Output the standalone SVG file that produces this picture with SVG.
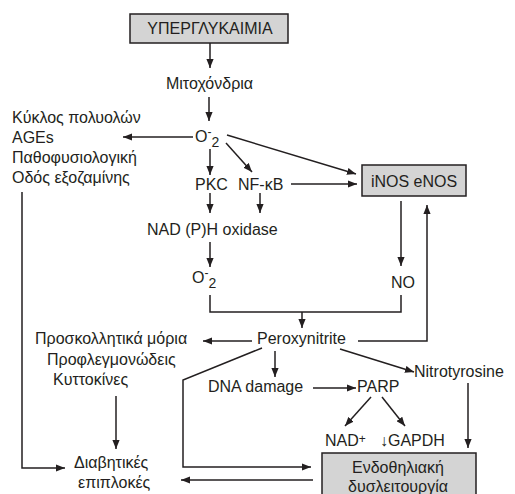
<svg xmlns="http://www.w3.org/2000/svg" width="515" height="494" viewBox="0 0 515 494">
<style>
text{font-family:"Liberation Sans",Arial,sans-serif;font-size:16px;fill:#231f20}
.box{fill:#d4d4d4;stroke:#231f20;stroke-width:1.5}
.ln{fill:none;stroke:#231f20;stroke-width:1.5}
.mid{text-anchor:middle}
.sm{font-size:12px}
.sub{font-size:14px}
</style>
<defs>
<marker id="ah" viewBox="0 0 10 8" refX="10" refY="4" markerWidth="9" markerHeight="7.5" markerUnits="userSpaceOnUse" orient="auto">
<path d="M0,0 L10,4 L0,8 z" fill="#231f20"/>
</marker>
</defs>
<rect width="515" height="494" fill="#fff"/>

<g id="connectors">
<path class="ln" d="M210,43 V68" marker-end="url(#ah)"/>
<path class="ln" d="M209,97 V121" marker-end="url(#ah)"/>
<path class="ln" d="M193,137 H123" marker-end="url(#ah)"/>
<path class="ln" d="M227,135 L356,174" marker-end="url(#ah)"/>
<path class="ln" d="M210,149 V175" marker-end="url(#ah)"/>
<path class="ln" d="M226,143 L252,172" marker-end="url(#ah)"/>
<path class="ln" d="M291,184 H357" marker-end="url(#ah)"/>
<path class="ln" d="M210,193 V213" marker-end="url(#ah)"/>
<path class="ln" d="M260,193 V213" marker-end="url(#ah)"/>
<path class="ln" d="M210,242 V267" marker-end="url(#ah)"/>
<path class="ln" d="M401,201 V266" marker-end="url(#ah)"/>
<path class="ln" d="M210,295 V312 H401 V295"/>
<path class="ln" d="M302,312 V328" marker-end="url(#ah)"/>
<path class="ln" d="M358,341 H427 V205" marker-end="url(#ah)"/>
<path class="ln" d="M252,341 H203" marker-end="url(#ah)"/>
<path class="ln" d="M275,351 V377" marker-end="url(#ah)"/>
<path class="ln" d="M262,348 L183,380 V467 H311" marker-end="url(#ah)"/>
<path class="ln" d="M340,349 L414,372" marker-end="url(#ah)"/>
<path class="ln" d="M313,388 H356" marker-end="url(#ah)"/>
<path class="ln" d="M371,397 L345,426" marker-end="url(#ah)"/>
<path class="ln" d="M382,397 L405,426" marker-end="url(#ah)"/>
<path class="ln" d="M468,383 V448" marker-end="url(#ah)"/>
<path class="ln" d="M116,396 V449" marker-end="url(#ah)"/>
<path class="ln" d="M22,192 V468 H65" marker-end="url(#ah)"/>
<path class="ln" d="M313,480 H181" marker-end="url(#ah)"/>
</g>

<g id="hyperglycemia">
<rect class="box" x="130" y="14" width="158" height="29"/>
<text class="mid" x="210" y="34">ΥΠΕΡΓΛΥΚΑΙΜΙΑ</text>
</g>
<g id="mitochondria"><text class="mid" x="209.5" y="89">Μιτοχόνδρια</text></g>
<g id="superoxide1">
<text x="195" y="142">O<tspan class="sm" dy="-6">-</tspan><tspan class="sub" dy="11">2</tspan></text>
</g>
<g id="pathways">
<text x="12" y="123">Κύκλος πολυολών</text>
<text x="12" y="143">AGEs</text>
<text x="12" y="163">Παθοφυσιολογική</text>
<text x="12" y="183">Οδός εξοζαμίνης</text>
</g>
<g id="pkc"><text x="195" y="190">PKC</text></g>
<g id="nfkb"><text x="238" y="190">NF-κB</text></g>
<g id="nos">
<rect class="box" x="362" y="165" width="104" height="31"/>
<text class="mid" x="414" y="187">iNOS eNOS</text>
</g>
<g id="nadph"><text x="147" y="235">NAD (P)H oxidase</text></g>
<g id="superoxide2">
<text x="192" y="283">O<tspan class="sm" dy="-6">-</tspan><tspan class="sub" dy="11">2</tspan></text>
</g>
<g id="no"><text x="391" y="288">NO</text></g>
<g id="peroxynitrite"><text x="257" y="344">Peroxynitrite</text></g>
<g id="adhesion">
<text x="35" y="344">Προσκολλητικά μόρια</text>
<text x="47" y="365">Προφλεγμονώδεις</text>
<text x="53" y="385">Κυττοκίνες</text>
</g>
<g id="dna"><text x="208" y="392">DNA damage</text></g>
<g id="parp"><text x="357" y="392">PARP</text></g>
<g id="nitrotyrosine"><text x="414" y="377">Nitrotyrosine</text></g>
<g id="nad"><text x="325" y="446">NAD<tspan class="sm" dy="-3">+</tspan></text></g>
<g id="gapdh"><text x="380" y="446">↓GAPDH</text></g>
<g id="complications">
<text x="74" y="468">Διαβητικές</text>
<text x="78" y="488">επιπλοκές</text>
</g>
<g id="dysfunction">
<rect class="box" x="322" y="453" width="154" height="50"/>
<text class="mid" x="398" y="473">Ενδοθηλιακή</text>
<text class="mid" x="398" y="492">δυσλειτουργία</text>
</g>
</svg>
